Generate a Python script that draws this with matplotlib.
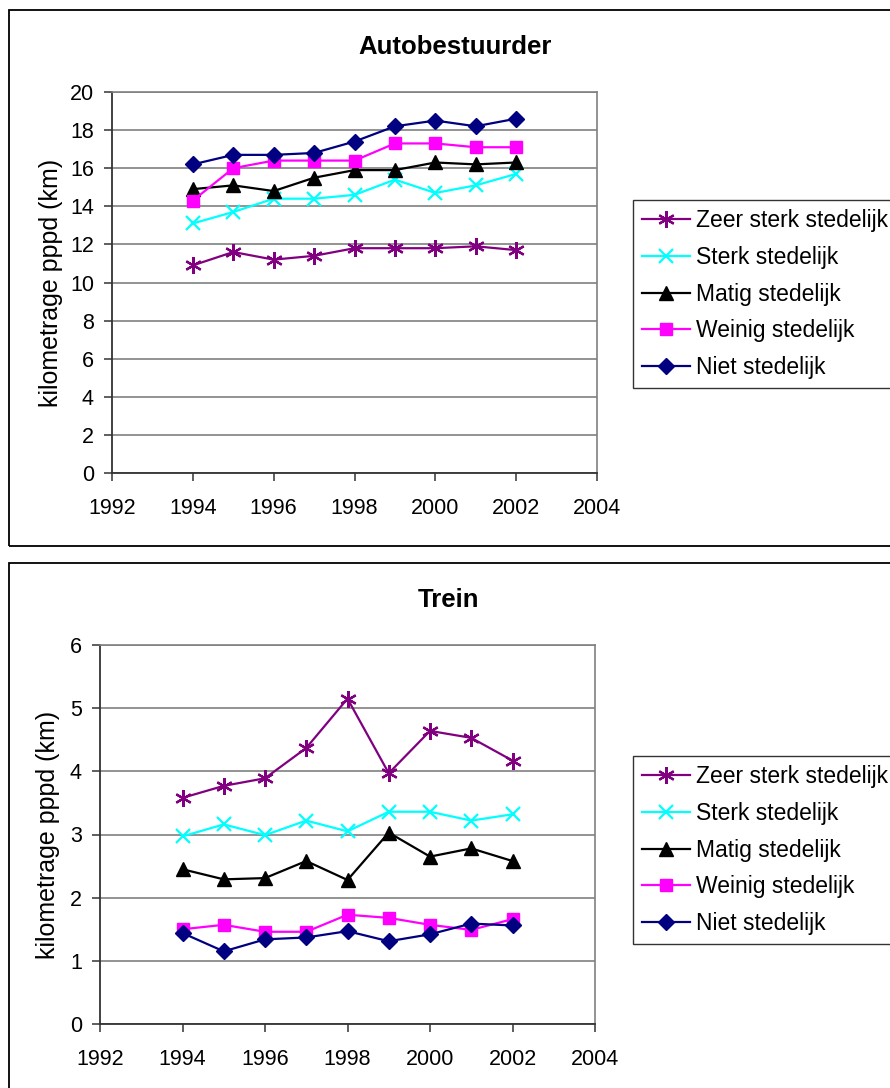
import matplotlib
matplotlib.use("Agg")
import matplotlib.pyplot as plt
from matplotlib.patches import Rectangle


plt.rcParams['font.family'] = ['Liberation Sans', 'DejaVu Sans']

years = [1994, 1995, 1996, 1997, 1998, 1999, 2000, 2001, 2002]
labels = ["Zeer sterk stedelijk", "Sterk stedelijk", "Matig stedelijk",
          "Weinig stedelijk", "Niet stedelijk"]

# Autobestuurder (km pppd)
auto_zeer = [10.9, 11.6, 11.2, 11.4, 11.8, 11.8, 11.8, 11.9, 11.7]
auto_sterk = [13.1, 13.7, 14.4, 14.4, 14.6, 15.4, 14.7, 15.1, 15.7]
auto_matig = [14.9, 15.1, 14.8, 15.5, 15.9, 15.9, 16.3, 16.2, 16.3]
auto_weinig = [14.3, 16.0, 16.4, 16.4, 16.4, 17.3, 17.3, 17.1, 17.1]
auto_niet = [16.2, 16.7, 16.7, 16.8, 17.4, 18.2, 18.5, 18.2, 18.6]

# Trein (km pppd)
trein_zeer = [3.58, 3.77, 3.89, 4.37, 5.15, 3.97, 4.64, 4.53, 4.17]
trein_sterk = [2.97, 3.16, 2.99, 3.22, 3.05, 3.36, 3.36, 3.22, 3.32]
trein_matig = [2.45, 2.29, 2.31, 2.58, 2.28, 3.03, 2.65, 2.78, 2.58]
trein_weinig = [1.50, 1.57, 1.46, 1.46, 1.73, 1.68, 1.57, 1.49, 1.66]
trein_niet = [1.44, 1.15, 1.34, 1.37, 1.47, 1.31, 1.42, 1.59, 1.56]

x_ticks = [1992, 1994, 1996, 1998, 2000, 2002, 2004]

styles = [
    dict(color="#800080", marker=(6, 2, 0), markersize=12, markeredgewidth=1.6),
    dict(color="#00FFFF", marker="x", markersize=10.5, markeredgewidth=1.6),
    dict(color="#000000", marker="^", markersize=10),
    dict(color="#FF00FF", marker="s", markersize=8.5),
    dict(color="#000080", marker="D", markersize=8),
]


def draw_panel(ax, series, ymax, ystep, label_x, leg_y):
    for vals, lab, st in zip(series, labels, styles):
        ax.plot(years, vals, linewidth=1.6, label=lab, clip_on=False, **st)
    ax.set_xlim(1992, 2004)
    ax.set_ylim(0, ymax)
    ax.set_xticks(x_ticks)
    ax.set_yticks(range(0, ymax + 1, ystep))
    ax.yaxis.grid(True, color="#808080", linewidth=1.2)
    ax.set_axisbelow(True)
    for s in ["top", "right"]:
        ax.spines[s].set_color("#808080")
        ax.spines[s].set_linewidth(1.2)
    for s in ["left", "bottom"]:
        ax.spines[s].set_color("#333333")
        ax.spines[s].set_linewidth(1.3)
    ax.tick_params(direction="out", length=6, width=1.1, labelsize=15.5, pad=7,
                   color="#333333")
    ax.tick_params(axis="x", pad=12)
    ax.set_ylabel("kilometrage pppd (km)", fontsize=18)
    ax.yaxis.set_label_coords(label_x, 0.5)
    leg = ax.legend(loc="upper left", bbox_to_anchor=(633 / 890, leg_y),
                    bbox_transform=ax.figure.transFigure, fontsize=16.5,
                    frameon=True, fancybox=False, borderpad=0.4,
                    handlelength=2.1, handletextpad=0.25, labelspacing=0.6,
                    borderaxespad=0)
    leg.get_frame().set_edgecolor("black")
    leg.get_frame().set_linewidth(1.0)


fig = plt.figure(figsize=(8.9, 10.88), dpi=100)

# chart frames
fig.patches.append(Rectangle((9 / 890, 0.4982), 1.1, 0.4926, transform=fig.transFigure,
                             fill=False, edgecolor="black", linewidth=1.3))
fig.patches.append(Rectangle((9 / 890, -0.1), 1.1, 0.5825, transform=fig.transFigure,
                             fill=False, edgecolor="black", linewidth=1.3))

ax1 = fig.add_axes([112 / 890, 1 - 473 / 1088, 485 / 890, 381 / 1088])
draw_panel(ax1, [auto_zeer, auto_sterk, auto_matig, auto_weinig, auto_niet],
           20, 2, -0.10, 1 - 200 / 1088)
fig.text(455 / 890, 1 - 47 / 1088, "Autobestuurder", ha="center", va="center",
         fontsize=18.5, fontweight="bold")

ax2 = fig.add_axes([100 / 890, 1 - 1024 / 1088, 495 / 890, 379 / 1088])
draw_panel(ax2, [trein_zeer, trein_sterk, trein_matig, trein_weinig, trein_niet],
           6, 1, -0.081, 1 - 756 / 1088)
fig.text(449 / 890, 1 - 600 / 1088, "Trein", ha="center", va="center",
         fontsize=18.5, fontweight="bold")

fig.savefig("out.png", dpi=100)
